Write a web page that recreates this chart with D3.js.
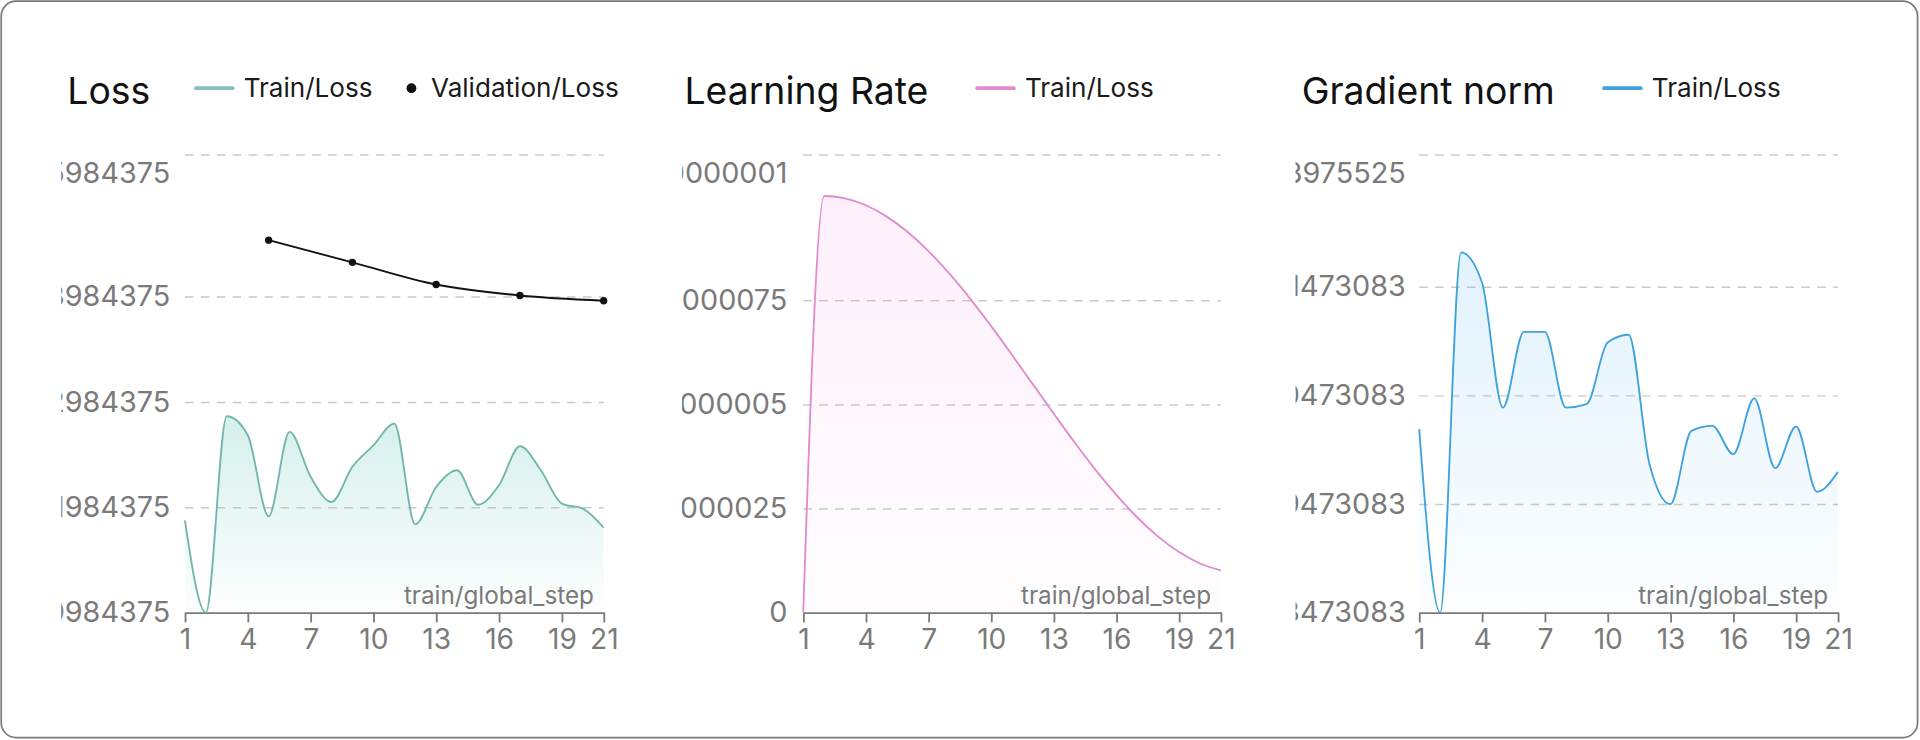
<!DOCTYPE html>
<html><head><meta charset="utf-8">
<script src="https://cdn.jsdelivr.net/npm/d3@7"></script>
<style>
html,body{margin:0;padding:0;background:#fff;}
svg{display:block;font-family:Inter,"Noto Sans",sans-serif;}
</style></head><body>
<svg id="chart" width="1920" height="740" viewBox="0 0 1568 604" preserveAspectRatio="none"></svg>
<script>
// ---------- data ----------
const steps = [1,2,3,4,5,6,7,8,9,10,11,12,13,14,15,16,17,18,19,20,21];
const xTickValues = [1,4,7,10,13,16,19,21];

const trainLoss = [2.1860,2.0984,2.2848,2.2670,2.1898,2.2699,2.2275,2.2034,2.2368,2.2572,2.2778,2.1822,2.2176,2.2335,2.2008,2.2193,2.2563,2.2335,2.2019,2.1971,2.1791];
const validationSteps = [5,9,13,17,21];
const validationLoss = [2.4519,2.4308,2.4098,2.3994,2.3944];
const lossTicks = [2.0984375,2.1984375,2.2984375,2.3984375];
const lossTickLabels = ["2.0984375","2.1984375","2.2984375","2.3984375"];
const lossMax = 2.5333;
const lossMaxLabel = "2.5984375";

const learningRate = [0,1.0e-7,9.944e-8,9.779e-8,9.506e-8,9.135e-8,8.676e-8,8.135e-8,7.532e-8,6.876e-8,6.185e-8,5.479e-8,4.774e-8,4.082e-8,3.426e-8,2.824e-8,2.282e-8,1.824e-8,1.453e-8,1.179e-8,1.015e-8];
const lrTicks = [0,2.5e-8,5e-8,7.5e-8];
const lrTickLabels = ["0","0.000000025","0.00000005","0.000000075"];
const lrMax = 1.1e-7;
const lrMaxLabel = "0.0000001";

const gradNorm = [1.0161,0.8473,1.1788,1.1511,1.0360,1.1057,1.1057,1.0360,1.0392,1.0959,1.1030,0.9839,0.9471,1.0146,1.0192,0.9931,1.0444,0.9802,1.0186,0.9585,0.9768];
const gradTicks = [0.8473083,0.9473083,1.0473083,1.1473083];
const gradTickLabels = ["0.8473083","0.9473083","1.0473083","1.1473083"];
const gradMax = 1.2690;
const gradMaxLabel = "1.3975525";

// ---------- drawing ----------
const svg = d3.select("#chart");
svg.append("rect").attr("x",1).attr("y",1).attr("width",1565).attr("height",601)
  .attr("rx",12).attr("fill","#fff").attr("stroke","#7a7a7a").attr("stroke-width",1.4);

const defs = svg.append("defs");
const TOP = 126, BOT = 500;
const FONT = "Inter,'Noto Sans',sans-serif";

function panel(cfg){
  const g = svg.append("g");
  const x = d3.scaleLinear().domain([1,21]).range([cfg.x0, cfg.x1]);
  const y = d3.scaleLinear().domain([cfg.ticks[0], cfg.max]).range([BOT, TOP]);

  // title
  g.append("text").attr("x",cfg.tx).attr("y",85).attr("font-size",30.5).attr("fill","#111").text(cfg.title);
  // legend
  let lx = cfg.lx;
  g.append("line").attr("x1",lx).attr("x2",lx+30).attr("y1",72).attr("y2",72)
    .attr("stroke",cfg.legendColor).attr("stroke-width",3).attr("stroke-linecap","round");
  g.append("text").attr("x",lx+39).attr("y",72).attr("dy","0.35em").attr("font-size",21.3).attr("fill","#1a1a1a").text("Train/Loss");
  if (cfg.val){
    g.append("circle").attr("cx",lx+176).attr("cy",72).attr("r",4).attr("fill","#111");
    g.append("text").attr("x",lx+192).attr("y",72).attr("dy","0.35em").attr("font-size",21.3).attr("fill","#1a1a1a").text("Validation/Loss");
  }

  // grid
  const grid = g.append("g").attr("transform",`translate(${cfg.x0},0)`)
    .call(d3.axisLeft(y).tickValues(cfg.ticks.slice(1).concat([cfg.max])).tickSize(-(cfg.x1-cfg.x0)).tickFormat(""));
  grid.select(".domain").remove();
  grid.selectAll("line").attr("stroke","#c9c9c9").attr("stroke-width",1.2).attr("stroke-dasharray","7,6");

  // y labels (clipped)
  const cid = "clip"+cfg.id;
  defs.append("clipPath").attr("id",cid).append("rect")
    .attr("x",cfg.clipLeft).attr("y",100).attr("width",cfg.x0-cfg.clipLeft).attr("height",440);
  const labelsAll = cfg.tickLabels.concat([cfg.maxLabel]);
  const ya = g.append("g").attr("clip-path",`url(#${cid})`).append("g").attr("transform",`translate(${cfg.x0},0)`)
    .call(d3.axisLeft(y).tickValues(cfg.ticks.concat([cfg.max])).tickSize(0).tickPadding(cfg.pad)
      .tickFormat((d,i)=>labelsAll[i]));
  ya.select(".domain").remove();
  ya.selectAll("text").attr("font-size",23.5).attr("fill","#7a7a7a").attr("font-family",FONT);
  ya.selectAll(".tick").filter(d=>d===cfg.max).select("text").attr("y",15);

  // area gradient
  const gid = "grad"+cfg.id;
  const lg = defs.append("linearGradient").attr("id",gid).attr("x1",0).attr("y1",0).attr("x2",0).attr("y2",1);
  lg.append("stop").attr("offset","0%").attr("stop-color",cfg.fillColor).attr("stop-opacity",cfg.fillOp);
  lg.append("stop").attr("offset","100%").attr("stop-color",cfg.fillColor).attr("stop-opacity",0.02);

  const pts = steps.map((s,i)=>[s,cfg.values[i]]);
  g.append("path").datum(pts).attr("fill",`url(#${gid})`)
    .attr("d",d3.area().x(d=>x(d[0])).y0(BOT).y1(d=>y(d[1])).curve(d3.curveMonotoneX));

  // x axis
  const xa = g.append("g").attr("transform",`translate(0,${BOT})`)
    .call(d3.axisBottom(x).tickValues(xTickValues).tickSize(8).tickSizeOuter(0).tickPadding(5).tickFormat(d3.format("d")));
  xa.select(".domain").attr("stroke","#7a7a7a").attr("stroke-width",1.5);
  xa.selectAll(".tick line").attr("stroke","#7a7a7a").attr("stroke-width",1.5);
  xa.selectAll("text").attr("font-size",23).attr("fill","#7a7a7a").attr("font-family",FONT);

  // line
  g.append("path").datum(pts).attr("fill","none").attr("stroke",cfg.color).attr("stroke-width",1.5)
    .attr("d",d3.line().x(d=>x(d[0])).y(d=>y(d[1])).curve(d3.curveMonotoneX));

  // validation
  if (cfg.val){
    const vp = validationSteps.map((s,i)=>[s,validationLoss[i]]);
    g.append("path").datum(vp).attr("fill","none").attr("stroke","#111").attr("stroke-width",1.5)
      .attr("d",d3.line().x(d=>x(d[0])).y(d=>y(d[1])).curve(d3.curveMonotoneX));
    g.selectAll(".vdot").data(vp).enter().append("circle").attr("class","vdot")
      .attr("cx",d=>x(d[0])).attr("cy",d=>y(d[1])).attr("r",3).attr("fill","#111");
  }

  // x axis label
  g.append("text").attr("x",cfg.x1-8).attr("y",493).attr("text-anchor","end")
    .attr("font-size",19.8).attr("fill","#7a7a7a").text("train/global_step");
}

panel({id:1,title:"Loss",tx:55,lx:160,x0:151,x1:493,clipLeft:50,pad:12,
  ticks:lossTicks,tickLabels:lossTickLabels,max:lossMax,maxLabel:lossMaxLabel,
  values:trainLoss,color:"#72b5ae",fillColor:"#7ccfc0",legendColor:"#82c0ba",fillOp:0.32,val:true});
panel({id:2,title:"Learning Rate",tx:559,lx:798,x0:656,x1:997,clipLeft:557,pad:13,
  ticks:lrTicks,tickLabels:lrTickLabels,max:lrMax,maxLabel:lrMaxLabel,
  values:learningRate,color:"#e08ccb",fillColor:"#f28fdc",legendColor:"#e08ccb",fillOp:0.14,val:false});
panel({id:3,title:"Gradient norm",tx:1063,lx:1310,x0:1159,x1:1501,clipLeft:1058,pad:11,
  ticks:gradTicks,tickLabels:gradTickLabels,max:gradMax,maxLabel:gradMaxLabel,
  values:gradNorm,color:"#3fa2da",fillColor:"#4fb0ec",legendColor:"#3fa2da",fillOp:0.17,val:false});
</script>
</body></html>
